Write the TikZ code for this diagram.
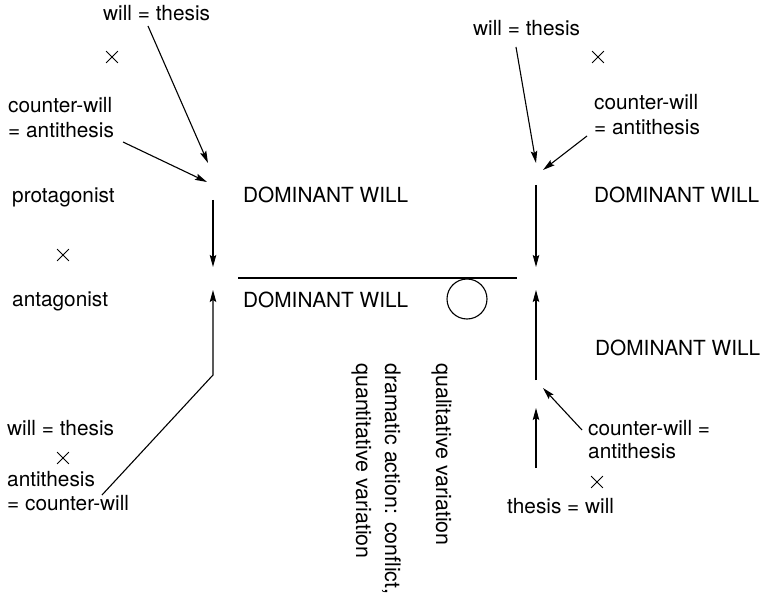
\documentclass[tikz,border=0pt]{standalone}
\usepackage{fontspec}
\setmainfont{TeX Gyre Heros}
\usetikzlibrary{arrows.meta,shapes.misc}
\begin{document}
\begin{tikzpicture}[x=1pt,y=-1pt,
  lbl/.style={anchor=base west,inner sep=0pt,font=\fontsize{20.8}{25}\selectfont},
  vlbl/.style={anchor=base west,inner sep=0pt,rotate=-90,font=\fontsize{21.4}{25}\selectfont},
  crs/.style={draw,cross out,inner sep=0pt,minimum size=11pt,line width=0.8pt},
  arr/.style={line width=1.1pt,-{Stealth[length=12pt,width=6.5pt,inset=2pt]}},
  ln/.style={line width=1.1pt}]
\useasboundingbox (0,0) rectangle (764,599);
% top-left group
\node[lbl] (tlwill) at (103,21) {will = thesis};
\node[crs] (tlx) at (112,57) {};
\node[lbl] (tlcw1) at (8,113) {counter-will};
\node[lbl] (tlcw2) at (8,138) {= antithesis};
\node[lbl] (prot) at (12,203) {protagonist};
\node[crs] (mlx) at (63,255) {};
\node[lbl] (antag) at (12,306) {antagonist};
\node[lbl] (dw1) at (243,203) {DOMINANT WILL};
\node[lbl] (dw2) at (243,307) {DOMINANT WILL};
% bottom-left group
\node[lbl] (blwill) at (7,435) {will = thesis};
\node[crs] (blx) at (63,458) {};
\node[lbl] (blan) at (7,486) {antithesis};
\node[lbl] (blcw) at (7,510) {= counter-will};
% right group
\node[lbl] (trwill) at (473,36) {will = thesis};
\node[crs] (trx) at (598,57) {};
\node[lbl] (trcw1) at (594,110) {counter-will};
\node[lbl] (trcw2) at (594,135) {= antithesis};
\node[lbl] (dw3) at (594,203) {DOMINANT WILL};
\node[lbl] (dw4) at (595,355) {DOMINANT WILL};
\node[lbl] (brcw1) at (588,435) {counter-will =};
\node[lbl] (brcw2) at (588,458) {antithesis};
\node[crs] (brx) at (597,482) {};
\node[lbl] (brth) at (507,513) {thesis = will};
% vertical labels
\node[vlbl] (qual) at (436,363) {qualitative variation};
\node[vlbl] (dram) at (385,363) {dramatic action: conflict,};
\node[vlbl] (quant) at (356,363) {quantitative variation};
% coordinates
\coordinate (a1s) at (148,26);  \coordinate (a1e) at (208,163);
\coordinate (a2s) at (123,142); \coordinate (a2e) at (207,182);
\coordinate (a3s) at (213,200); \coordinate (a3e) at (213,267);
\coordinate (a4s) at (102,495); \coordinate (a4m) at (213,375); \coordinate (a4e) at (213,290);
\coordinate (b1s) at (516,47);  \coordinate (b1e) at (536,163);
\coordinate (b2s) at (587,136); \coordinate (b2e) at (543,170);
\coordinate (b3s) at (536,185); \coordinate (b3e) at (536,267);
\coordinate (b4s) at (536,380); \coordinate (b4e) at (536,290);
\coordinate (b5s) at (582,430); \coordinate (b5e) at (543,388);
\coordinate (b6s) at (536,468); \coordinate (b6e) at (536,408);
\coordinate (hl) at (238,278); \coordinate (hr) at (517,278);
\coordinate (cc) at (467,299);
% arrows
\draw[arr] (a1s) -- (a1e);
\draw[arr] (a2s) -- (a2e);
\draw[arr] (a3s) -- (a3e);
\draw[arr] (a4s) -- (a4m) -- (a4e);
\draw[arr] (b1s) -- (b1e);
\draw[arr] (b2s) -- (b2e);
\draw[arr] (b3s) -- (b3e);
\draw[arr] (b4s) -- (b4e);
\draw[arr] (b5s) -- (b5e);
\draw[arr] (b6s) -- (b6e);
\draw[ln] (hl) -- (hr);
\draw[ln] (cc) circle (20);
\end{tikzpicture}
\end{document}
